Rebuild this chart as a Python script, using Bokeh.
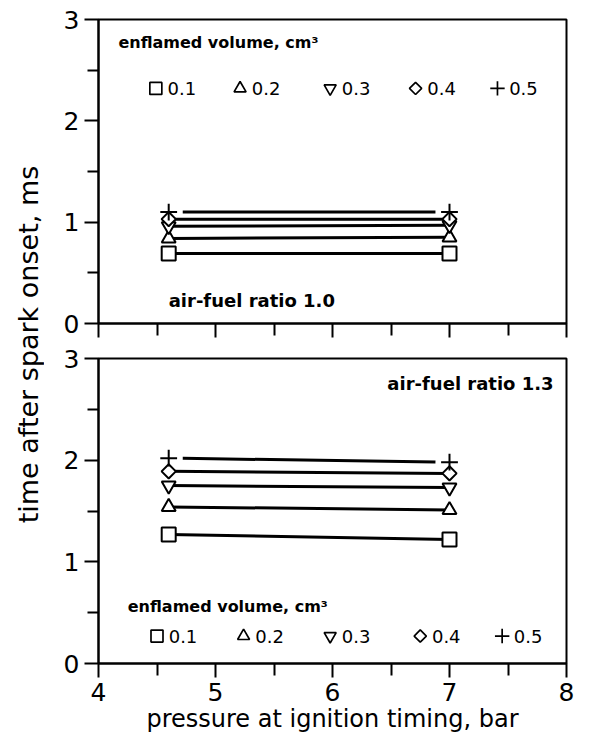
import math
from bokeh.plotting import figure
from bokeh.layouts import row, column
from bokeh.models import FixedTicker, Range1d, Label
from bokeh.embed import file_html
from bokeh.resources import INLINE

FONT = "DejaVu Sans"

# ---------------- data ----------------
pressure = [4.6, 7.0]                       # bar
volume_labels = ["0.1", "0.2", "0.3", "0.4", "0.5"]   # cm3
volume_markers = ["square", "triangle", "inverted_triangle", "diamond", "cross"]

# air-fuel ratio 1.0, time after spark onset (ms)
afr10_v01 = [0.69, 0.69]
afr10_v02 = [0.84, 0.85]
afr10_v03 = [0.96, 0.97]
afr10_v04 = [1.03, 1.03]
afr10_v05 = [1.10, 1.10]

# air-fuel ratio 1.3, time after spark onset (ms)
afr13_v01 = [1.27, 1.22]
afr13_v02 = [1.54, 1.51]
afr13_v03 = [1.75, 1.73]
afr13_v04 = [1.89, 1.87]
afr13_v05 = [2.02, 1.98]

x_ticks = [4, 5, 6, 7, 8]
x_minor = [4.5, 5.5, 6.5, 7.5]
y_ticks = [0, 1, 2, 3]
y_minor = [0.5, 1.5, 2.5]

FRAME_W = 468
TOP_T, TOP_H, TOP_B = 19, 304, 22
BOT_T, BOT_H, BOT_B = 13, 305, 78
LAB_W = 44


def marker_glyph(p, xs, ys, m, size, lw, fill):
    """Draw hollow markers; diamonds drawn as squares rotated 45 degrees."""
    if m == "diamond":
        p.scatter(xs, ys, marker="square", angle=math.pi / 4,
                  size=size * 0.72, line_color="black", line_width=lw,
                  fill_color=fill)
    elif m == "cross":
        p.scatter(xs, ys, marker="cross", size=size * 1.2,
                  line_color="black", line_width=lw, fill_color=None)
    else:
        p.scatter(xs, ys, marker=m, size=size, line_color="black",
                  line_width=lw, fill_color=fill)


def make_panel(series, ratio_text, ratio_pos, ratio_align, legend_title_pos,
               legend_row_y, legend_x, bottom, min_top, frame_h, min_bottom):
    p = figure(frame_width=FRAME_W, frame_height=frame_h,
               x_range=Range1d(4, 8), y_range=Range1d(0, 3),
               output_backend="svg", toolbar_location=None,
               min_border_left=98 - LAB_W, min_border_right=12,
               min_border_top=min_top, min_border_bottom=min_bottom)
    p.xgrid.visible = False
    p.ygrid.visible = False
    p.outline_line_color = "black"
    p.outline_line_width = 2
    p.background_fill_color = "white"
    p.border_fill_color = "white"

    for ax in (p.xaxis[0], p.yaxis[0]):
        ax.axis_line_width = 2
        ax.major_tick_line_width = 2
        ax.minor_tick_line_width = 2
        ax.major_tick_in = 0
        ax.minor_tick_in = 0
        ax.major_label_text_font = FONT
        ax.major_label_text_font_size = "25px"
        ax.major_label_text_color = "black"
        ax.axis_label_text_font = FONT
        ax.axis_label_text_font_style = "normal"
        ax.axis_label_text_font_size = "24px"
        ax.axis_label_text_color = "black"

    p.xaxis.ticker = FixedTicker(ticks=x_ticks, minor_ticks=x_minor)
    p.yaxis.ticker = FixedTicker(ticks=y_ticks, minor_ticks=y_minor)
    p.xaxis.major_tick_out = 14
    p.xaxis.minor_tick_out = 12
    p.yaxis.major_tick_out = 14
    p.yaxis.minor_tick_out = 11
    p.yaxis.major_label_standoff = 5

    if bottom:
        p.xaxis.major_label_standoff = 5
        p.xaxis.axis_label = "pressure at ignition timing, bar"
        p.xaxis.axis_label_standoff = 1
    else:
        p.xaxis.major_label_overrides = {t: "" for t in x_ticks}
        p.xaxis.major_label_text_font_size = "1px"
        p.xaxis.major_label_standoff = 0

    # data series
    for i, ys in enumerate(series):
        m = volume_markers[i]
        if m == "cross":
            gap = 0.12
            slope = (ys[1] - ys[0]) / (pressure[1] - pressure[0])
            lx = [pressure[0] + gap, pressure[1] - gap]
            ly = [ys[0] + slope * gap, ys[1] - slope * gap]
            p.line(lx, ly, line_color="black", line_width=3)
        else:
            p.line(pressure, ys, line_color="black", line_width=3)
        marker_glyph(p, pressure, ys, m, 14, 2, "white")

    # legend
    p.add_layout(Label(x=legend_title_pos[0], y=legend_title_pos[1],
                       text="enflamed volume, cm³", text_font=FONT,
                       text_font_size="16px", text_font_style="bold",
                       text_baseline="middle", text_align="left",
                       text_color="black"))
    for i, lab in enumerate(volume_labels):
        mx = legend_x[i]
        marker_glyph(p, [mx], [legend_row_y], volume_markers[i], 12, 1.7, None)
        p.add_layout(Label(x=mx + 0.1, y=legend_row_y, text=lab,
                           text_font=FONT, text_font_size="18px",
                           text_baseline="middle", text_align="left",
                           text_color="black"))

    p.add_layout(Label(x=ratio_pos[0], y=ratio_pos[1], text=ratio_text,
                       text_font=FONT, text_font_size="18px",
                       text_font_style="bold", text_baseline="middle",
                       text_align=ratio_align, text_color="black"))
    return p


p1 = make_panel([afr10_v01, afr10_v02, afr10_v03, afr10_v04, afr10_v05],
                "air-fuel ratio 1.0", (4.6, 0.23), "left",
                (4.17, 2.77), 2.32, [4.49, 5.21, 5.98, 6.71, 7.41],
                bottom=False, min_top=TOP_T, frame_h=TOP_H, min_bottom=TOP_B)

p2 = make_panel([afr13_v01, afr13_v02, afr13_v03, afr13_v04, afr13_v05],
                "air-fuel ratio 1.3", (7.89, 2.75), "right",
                (4.25, 0.56), 0.27, [4.50, 5.24, 5.98, 6.75, 7.45],
                bottom=True, min_top=BOT_T, frame_h=BOT_H, min_bottom=BOT_B)

TOTAL_H = TOP_T + TOP_H + TOP_B + BOT_T + BOT_H + BOT_B
lab = figure(width=LAB_W, height=TOTAL_H, x_range=Range1d(0, LAB_W),
             y_range=Range1d(0, TOTAL_H), output_backend="svg",
             toolbar_location=None, min_border=0)
lab.axis.visible = False
lab.xgrid.visible = False
lab.ygrid.visible = False
lab.outline_line_color = None
lab.add_layout(Label(x=28, y=TOTAL_H - 344, text="time after spark onset, ms",
                     angle=math.pi / 2, text_font=FONT, text_font_size="27px",
                     text_align="center", text_baseline="middle",
                     text_color="black"))

layout = row(lab, column(p1, p2))

open("out.html", "w").write(file_html(layout, INLINE))
